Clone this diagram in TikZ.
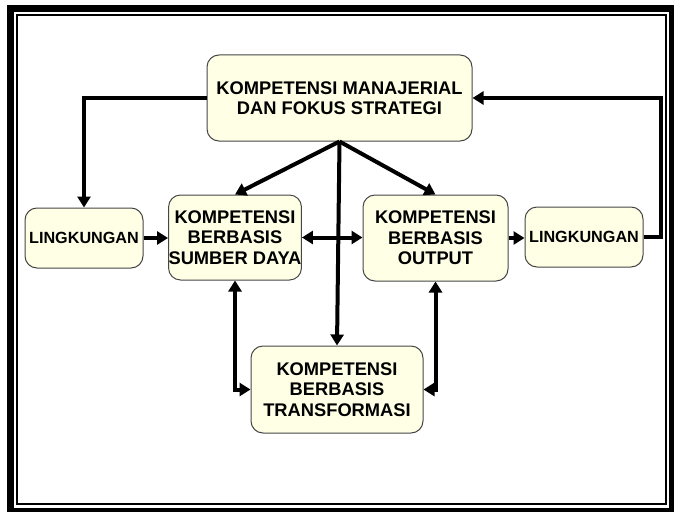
\documentclass[tikz,border=0pt]{standalone}
\usepackage{fontspec}
\setmainfont{Liberation Sans}
\usetikzlibrary{arrows.meta}
\definecolor{boxfill}{RGB}{255,255,230}
\definecolor{boxline}{RGB}{70,70,70}
\tikzset{
  blk/.style={draw=boxline, line width=1pt, fill=boxfill, rounded corners=12pt,
    inner sep=0pt, align=center, font=\fontsize{18.3}{20.5}\selectfont\bfseries},
  smallblk/.style={blk, font=\fontsize{16.2}{19}\selectfont\bfseries},
  conn/.style={line width=4pt, -{Triangle[length=11pt,width=13pt]}},
  biconn/.style={line width=4pt, {Triangle[length=11pt,width=13pt]}-{Triangle[length=11pt,width=13pt]}}
}
\begin{document}
\begin{tikzpicture}[x=1pt, y=-1pt]
  \useasboundingbox (0,0) rectangle (674,511);
  \clip (0,0) rectangle (674,511);
  % double frame
  \draw[line width=7pt] (10.5,8.8) rectangle (672.5,511.5);
  \draw[line width=2pt] (17,15) rectangle (666,504.3);

  % blocks
  \node[blk, minimum width=265pt, minimum height=86pt] (top) at (339.5,98)
    {KOMPETENSI MANAJERIAL\\DAN FOKUS STRATEGI};
  \node[smallblk, minimum width=118pt, minimum height=60pt] (lingL) at (84,238) {LINGKUNGAN};
  \node[blk, minimum width=130pt, minimum height=85pt] (sdm) at (235,237.5)
    {KOMPETENSI\\BERBASIS\\SUMBER DAYA};
  \node[blk, minimum width=145pt, minimum height=86pt] (out) at (435.5,238)
    {KOMPETENSI\\BERBASIS\\OUTPUT};
  \node[smallblk, minimum width=118pt, minimum height=60pt] (lingR) at (584,237) {LINGKUNGAN};
  \node[blk, minimum width=172pt, minimum height=87pt] (trans) at (337,389.5)
    {KOMPETENSI\\BERBASIS\\TRANSFORMASI};

  % feedback loops through the environment
  \draw[conn] (top.west) -| (lingL.north);
  \draw[conn] (lingR.east) -- ++(17,0) |- (top.east);

  % horizontal chain
  \draw[conn] (lingL.east) -- (lingL.east -| sdm.west);
  \draw[biconn] (sdm.east) -- (sdm.east -| out.west);
  \draw[conn] (out.east) -- (out.east -| lingR.west);

  % strategy to the three competence bases
  \draw[conn] (top.south) -- (sdm.north);
  \draw[conn] (top.south) -- (out.north);
  \draw[conn] (top.south) -- (trans.north);

  % links to transformation
  \draw[biconn] (sdm.south) |- (trans.west);
  \draw[biconn] (out.south) |- (trans.east);
\end{tikzpicture}
\end{document}
